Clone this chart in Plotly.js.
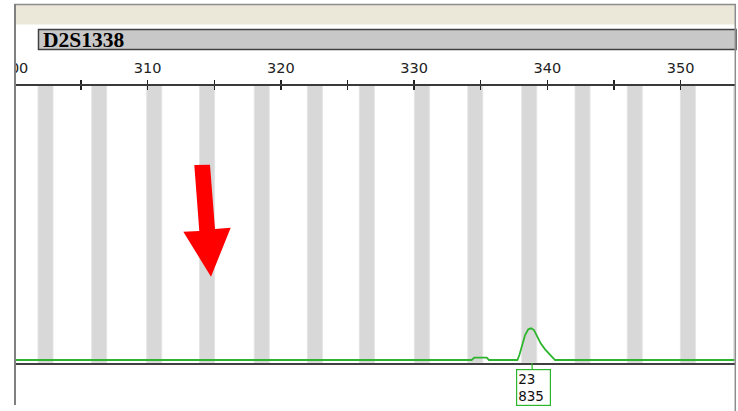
<!DOCTYPE html>
<html>
<head>
<meta charset="utf-8">
<script src="https://cdn.plot.ly/plotly-3.0.1.min.js"></script>
<style>
html,body{margin:0;padding:0;background:#fff;}
#chart{width:738px;height:411px;}
</style>
</head>
<body>
<div id="chart"></div>
<script>
// ---- data ----
const markerName = 'D2S1338';
const tickValues = [300, 305, 310, 315, 320, 325, 330, 335, 340, 345, 350];
const tickLabels = ['300', '', '310', '', '320', '', '330', '', '340', '', '350'];
const binCenters = [302.33, 306.36, 310.49, 314.45, 318.56, 322.55, 326.45, 330.58, 334.59, 338.64, 342.64, 346.56, 350.55, 354.54];
const traceSize = [300, 334.32, 334.52, 335.45, 335.62, 337.75, 337.90, 338.08, 338.33, 338.57, 338.78, 339.00, 339.25, 339.50, 339.83, 340.15, 340.58, 354.2];
const traceRFU  = [0, 0, 61, 61, 0, 0, 132, 350, 659, 809, 835, 790, 614, 440, 282, 158, 0, 0];
const peakSize = [338.84];
const peakAllele = ['23'];
const peakHeight = ['835'];

// ---- layout helpers ----
const W = 738, H = 411;
const fx = x => x / W;
const fy = y => 1 - y / H;
const yTop = 85.5, yBot = 363;
const rfuPerPx = 26.35;
const yRange = [-(yBot - 360) * rfuPerPx, (360 - yTop) * rfuPerPx];

function pathPx(pts) {
  return 'M' + pts.map(p => fx(p[0]).toFixed(5) + ',' + fy(p[1]).toFixed(5)).join(' L') + ' Z';
}

const binTrace = {
  type: 'bar',
  x: binCenters,
  y: binCenters.map(() => yRange[1] - yRange[0]),
  base: yRange[0],
  width: 1.126,
  marker: {color: '#D8D8D8', line: {color: '#E4E4E4', width: 1}},
  hoverinfo: 'skip',
  xaxis: 'x', yaxis: 'y'
};

const greenTrace = {
  type: 'scatter',
  mode: 'lines',
  x: traceSize,
  y: traceRFU,
  line: {color: '#2EB52E', width: 1.8},
  hoverinfo: 'skip',
  xaxis: 'x2', yaxis: 'y'
};

const domX = [14.5 / W, 734.5 / W];
const domY = [(H - yBot) / H, (H - yTop) / H];

const shapes = [
  {type: 'rect', xref: 'paper', yref: 'paper', x0: fx(15), x1: fx(735), y0: fy(5), y1: fy(24.5),
   fillcolor: '#EBE7D9', line: {width: 0}, layer: 'below'},
  {type: 'rect', xref: 'paper', yref: 'paper', x0: fx(38.5), x1: fx(736), y0: fy(29.5), y1: fy(49.5),
   fillcolor: '#C8C8C8', line: {color: '#404040', width: 1.5}, layer: 'above'},
  {type: 'rect', xref: 'paper', yref: 'paper', x0: 0, x1: fx(14), y0: 0, y1: 1,
   fillcolor: '#FFFFFF', line: {width: 0}, layer: 'above'},
  {type: 'line', xref: 'paper', yref: 'paper', x0: fx(14), x1: fx(736), y0: fy(4.5), y1: fy(4.5),
   line: {color: '#8C8C8C', width: 1.5}, layer: 'above'},
  {type: 'line', xref: 'paper', yref: 'paper', x0: fx(15), x1: fx(15), y0: fy(4), y1: fy(405),
   line: {color: '#808080', width: 2}, layer: 'above'},
  {type: 'line', xref: 'paper', yref: 'paper', x0: fx(735.3), x1: fx(735.3), y0: fy(4), y1: fy(411),
   line: {color: '#8C8C8C', width: 1.5}, layer: 'above'},
  {type: 'path', xref: 'paper', yref: 'paper', layer: 'above',
   path: pathPx([[194.3, 165], [210, 164.7], [215, 229], [230.7, 227.7], [211, 276.7], [183.3, 231.7], [199.3, 231]]),
   fillcolor: '#FF0000', line: {width: 0}}
];

const annotations = [
  {xref: 'paper', yref: 'paper', x: fx(40.5), y: fy(40), xanchor: 'left', yanchor: 'middle',
   text: '<b>' + markerName + '</b>', showarrow: false,
   font: {family: 'Liberation Serif', size: 21.5, color: '#000'}}
];
peakSize.forEach((s, i) => {
  annotations.push({
    xref: 'x', yref: 'paper', x: s, y: fy(363),
    text: peakAllele[i] + '<br>' + peakHeight[i],
    showarrow: true, arrowhead: 0, arrowwidth: 1.2, arrowcolor: '#2EB52E',
    ax: 1.5, ay: 24.5, standoff: 0,
    align: 'left', width: 31, height: 33,
    bordercolor: '#2EB52E', borderwidth: 1.2, borderpad: 1, bgcolor: '#FFFFFF',
    font: {family: 'DejaVu Sans', size: 13.5, color: '#111'}
  });
});

const layout = {
  width: W, height: H,
  margin: {l: 0, r: 0, t: 0, b: 0},
  paper_bgcolor: '#FFFFFF', plot_bgcolor: '#FFFFFF',
  showlegend: false,
  bargap: 0,
  xaxis: {
    domain: domX, range: [300, 354.05], side: 'top', anchor: 'y',
    tickmode: 'array', tickvals: tickValues, ticktext: tickLabels,
    ticks: 'outside', ticklen: 4, tickwidth: 1.3, tickcolor: '#222',
    showline: true, linecolor: '#3A3A3A', linewidth: 1.5, mirror: false,
    showgrid: false, zeroline: false, ticklabelstandoff: 1,
    tickfont: {family: 'DejaVu Sans', size: 14.5, color: '#222'}
  },
  xaxis2: {
    overlaying: 'x', matches: 'x', side: 'top', anchor: 'y',
    tickmode: 'array', tickvals: tickValues, showticklabels: false,
    ticks: 'inside', ticklen: 4, tickwidth: 1.3, tickcolor: '#222',
    showline: false, showgrid: false, zeroline: false
  },
  xaxis3: {
    overlaying: 'x', matches: 'x', side: 'bottom', anchor: 'y',
    showticklabels: false, ticks: '', showline: true, linecolor: '#404040', linewidth: 2,
    showgrid: false, zeroline: false
  },
  yaxis: {
    domain: domY, range: yRange, visible: false, fixedrange: true
  },
  shapes: shapes,
  annotations: annotations
};

const lineAxis3 = {type: 'scatter', mode: 'lines', x: [], y: [], xaxis: 'x3', yaxis: 'y', hoverinfo: 'skip'};

Plotly.newPlot('chart', [binTrace, greenTrace, lineAxis3], layout, {staticPlot: true, displayModeBar: false});
</script>
</body>
</html>
